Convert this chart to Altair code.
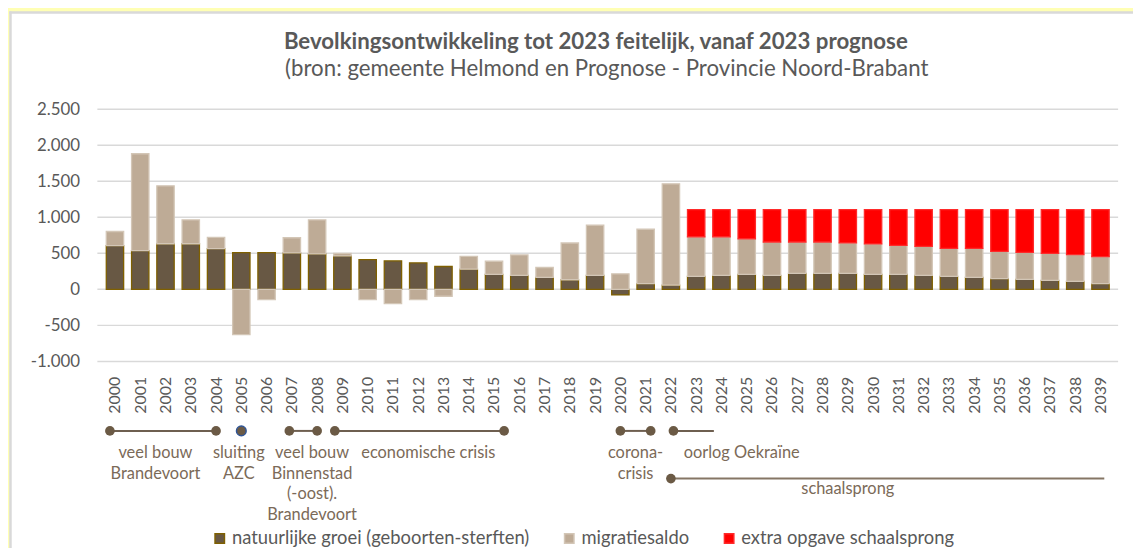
import altair as alt
import pandas as pd

# ---------------- data ----------------
years = list(range(2000, 2040))
natuurlijk = [606, 537, 633, 633, 565, 510, 510, 505, 491, 464,
              413, 395, 367, 317, 280, 207, 193, 165, 133, 193,
              -78, 78, 60, 179, 193, 207, 194, 222, 222, 222,
              208, 208, 194, 181, 167, 148, 139, 125, 111, 79]
migratie = [197, 1345, 804, 331, 156, -629, -142, 211, 473, 36,
            -142, -197, -142, -96, 179, 183, 284, 138, 510, 697,
            216, 757, 1404, 551, 537, 495, 463, 435, 435, 422,
            422, 403, 403, 388, 402, 380, 375, 375, 371, 375]
extra = [0] * 23 + [376, 376, 404, 450, 450, 450, 463, 477, 496,
                    510, 538, 538, 579, 593, 607, 625, 653]

series_names = ["natuurlijke groei (geboorten-sterften)", "migratiesaldo",
                "extra opgave schaalsprong"]
fill_colors = ["#685844", "#BEAB96", "#FF0000"]
stroke_colors = ["#7F6000", "#D3C6B6", "#FF2A2A"]

y_ticks = [-1000, -500, 0, 500, 1000, 1500, 2000, 2500]

title_text = "Bevolkingsontwikkeling tot 2023 feitelijk, vanaf 2023 prognose"
subtitle_text = "(bron: gemeente Helmond en Prognose - Provincie Noord-Brabant"

# timeline annotations (in years)
tl1_start = [1999.8, 2006.9, 2008.7, 2020.0, 2022.1]
tl1_end = [2004.0, 2008.0, 2015.4, 2021.2, 2023.7]
dots1 = [1999.8, 2004.0, 2006.9, 2008.0, 2008.7, 2015.4, 2020.0, 2021.2, 2022.1]
azc_dot = [2005.0]
tl2_start = [2022.0]
tl2_end = [2039.15]
dots2 = [2022.0]

ann1_x = [2001.6, 2004.9, 2007.8, 2012.4, 2020.6, 2024.8]
ann1_text = ["veel bouw\nBrandevoort", "sluiting\nAZC",
             "veel bouw\nBinnenstad\n(-oost).\nBrandevoort",
             "economische crisis", "corona-\ncrisis", "oorlog Oekraïne"]
ann2_x = [2029.0]
ann2_text = ["schaalsprong"]

# ---------------- tables ----------------
rows = []
for i, yr in enumerate(years):
    for k, vals in enumerate([natuurlijk, migratie, extra]):
        if vals[i] != 0:
            rows.append({"jaar": yr, "reeks": series_names[k],
                         "waarde": vals[i], "volgorde": k})
df = pd.DataFrame(rows)

W, H = 1028, 254
FONT = "Lato"
GREY = "#595959"
ANN = "#7B6A58"
LINE = "#6E5F50"
BORDER = "#D9D9D9"

x_scale = alt.Scale(domain=[1999.5, 2039.5], nice=False, zero=False)
y_scale = alt.Scale(domain=[-1000, 2500], nice=False, zero=False)

x_axis = alt.Axis(values=years, format="d", labelAngle=270, ticks=False,
                  tickSize=0, domain=False, grid=False, labelPadding=15,
                  labelFontSize=16, labelColor=GREY, labelFont=FONT,
                  labelFlush=False, labelOverlap=False, title=None, zindex=1)
y_axis = alt.Axis(values=y_ticks,
                  labelExpr="(datum.value < 0 ? '-' : '') + replace(format(abs(datum.value), ','), ',', '.')",
                  ticks=False, tickSize=0, domain=False, grid=False,
                  labelPadding=18, labelFontSize=17, labelColor=GREY,
                  labelFont=FONT, title=None, zindex=1)

legend = alt.Legend(title=None, orient="none", legendX=114, legendY=423,
                    direction="horizontal", columns=3, symbolType="square",
                    symbolSize=90, symbolStrokeWidth=1.5, labelFontSize=18.5,
                    labelColor=GREY, labelFont=FONT, labelOffset=3,
                    columnPadding=30, padding=0, labelLimit=500, zindex=1)

one = alt.Data(values=[{}])

panel = alt.Chart(one).mark_rect(fill="white").encode(
    x=alt.value(-88), x2=alt.value(1100), y=alt.value(-98), y2=alt.value(500))

border_left = alt.Chart(one).mark_rule(color=BORDER, strokeWidth=2.5).encode(
    x=alt.value(-87.5), y=alt.value(-98.5), y2=alt.value(500))

border_top = alt.Chart(one).mark_rule(color=BORDER, strokeWidth=2.5).encode(
    y=alt.value(-97.3), x=alt.value(-88.7), x2=alt.value(1100))

title_mark = alt.Chart(alt.Data(values=[{"t": title_text}])).mark_text(
    font=FONT, fontSize=22.4, fontWeight="bold", color=GREY,
    align="center", baseline="middle"
).encode(x=alt.value(502), y=alt.value(-68), text="t:N")

subtitle_mark = alt.Chart(alt.Data(values=[{"t": subtitle_text}])).mark_text(
    font=FONT, fontSize=22.4, color=GREY, align="center", baseline="middle"
).encode(x=alt.value(513), y=alt.value(-40), text="t:N")

grid = alt.Chart(pd.DataFrame({"v": y_ticks})).mark_rule(
    color=BORDER, strokeWidth=1.5
).encode(y=alt.Y("v:Q", scale=y_scale, axis=y_axis))

bars = alt.Chart(df).mark_bar(size=17.5, strokeWidth=1.3).encode(
    x=alt.X("jaar:Q", scale=x_scale, axis=x_axis),
    y=alt.Y("waarde:Q", scale=y_scale, axis=y_axis, stack="zero"),
    color=alt.Color("reeks:N", scale=alt.Scale(domain=series_names, range=fill_colors),
                    legend=legend),
    stroke=alt.Stroke("reeks:N", scale=alt.Scale(domain=series_names, range=stroke_colors),
                      legend=legend),
    order=alt.Order("volgorde:Q"),
)

ROW1, ROW2 = 324, 372

lines1 = alt.Chart(pd.DataFrame({"a": tl1_start, "b": tl1_end})).mark_rule(
    color=LINE, strokeWidth=2
).encode(x=alt.X("a:Q", scale=x_scale, axis=x_axis), x2="b:Q", y=alt.value(ROW1))

lines2 = alt.Chart(pd.DataFrame({"a": tl2_start, "b": tl2_end})).mark_rule(
    color="#857665", strokeWidth=2
).encode(x=alt.X("a:Q", scale=x_scale, axis=x_axis), x2="b:Q", y=alt.value(ROW2))

pts1 = alt.Chart(pd.DataFrame({"a": dots1})).mark_circle(
    size=95, color="#6B5A45", opacity=1
).encode(x=alt.X("a:Q", scale=x_scale, axis=x_axis), y=alt.value(ROW1))

pts_azc = alt.Chart(pd.DataFrame({"a": azc_dot})).mark_point(
    shape="circle", size=95, filled=True, fill="#6B5A45", stroke="#2F5597",
    strokeWidth=1.5, opacity=1
).encode(x=alt.X("a:Q", scale=x_scale, axis=x_axis), y=alt.value(ROW1))

pts2 = alt.Chart(pd.DataFrame({"a": dots2})).mark_circle(
    size=95, color="#6B5A45", opacity=1
).encode(x=alt.X("a:Q", scale=x_scale, axis=x_axis), y=alt.value(ROW2))

txt1 = alt.Chart(pd.DataFrame({"a": ann1_x, "t": ann1_text})).mark_text(
    font=FONT, fontSize=16.5, color=ANN, align="center", baseline="middle",
    lineBreak="\n", lineHeight=21
).encode(x=alt.X("a:Q", scale=x_scale, axis=x_axis), y=alt.value(ROW1 + 22), text="t:N")

txt2 = alt.Chart(pd.DataFrame({"a": ann2_x, "t": ann2_text})).mark_text(
    font=FONT, fontSize=16.5, color=ANN, align="center", baseline="middle"
).encode(x=alt.X("a:Q", scale=x_scale, axis=x_axis), y=alt.value(ROW2 + 11), text="t:N")

chart = alt.layer(
    panel, border_left, border_top, title_mark, subtitle_mark, grid, bars,
    lines1, lines2, pts1, pts_azc, pts2, txt1, txt2
).properties(
    width=W, height=H,
    padding={"left": 90, "top": 100, "right": 15, "bottom": 186},
    autosize=alt.AutoSizeParams(type="none"),
    background="#FFFFB4",
).configure(font=FONT).configure_view(stroke=None)

chart.save("out.html", embed_options={"renderer": "svg", "actions": False})
